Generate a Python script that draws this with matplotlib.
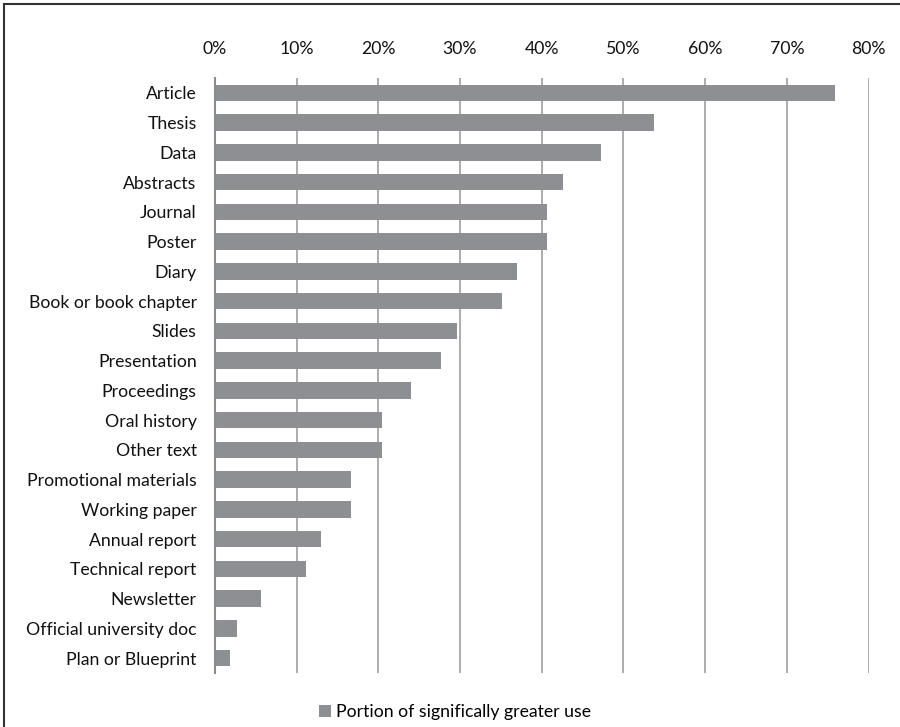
import matplotlib
matplotlib.use("Agg")
import matplotlib.pyplot as plt
from matplotlib.patches import Patch
from matplotlib.lines import Line2D

categories = ["Article", "Thesis", "Data", "Abstracts", "Journal", "Poster", "Diary",
              "Book or book chapter", "Slides", "Presentation", "Proceedings",
              "Oral history", "Other text", "Promotional materials", "Working paper",
              "Annual report", "Technical report", "Newsletter",
              "Official university doc", "Plan or Blueprint"]
values = [75.9, 53.7, 47.3, 42.6, 40.7, 40.7, 37.0, 35.2, 29.6, 27.7, 24.0,
          20.4, 20.4, 16.7, 16.7, 13.0, 11.1, 5.6, 2.7, 1.9]
tick_values = [0, 10, 20, 30, 40, 50, 60, 70, 80]
tick_labels = [f"{v}%" for v in tick_values]
series_name = "Portion of significally greater use"

plt.rcParams['font.family'] = ['Lato', 'DejaVu Sans']
fs = 12.7
bar_color = "#8E8F93"
text_color = "#111111"

fig = plt.figure(figsize=(9, 7.27), dpi=100)
ax = fig.add_axes([214.8/900, 1-673/727, (868.6-214.8)/900, (673-78)/727])

ypos = list(range(len(categories)))
ax.barh(ypos, values, height=0.55, color=bar_color, zorder=3)
ax.set_ylim(len(categories)-0.5, -0.5)
ax.set_xlim(0, 80)
ax.set_yticks(ypos)
ax.set_yticklabels(categories, fontsize=fs, color=text_color)
ax.xaxis.tick_top()
ax.set_xticks(tick_values)
ax.set_xticklabels(tick_labels, fontsize=fs, color=text_color)
ax.tick_params(axis='x', length=0, pad=15)
ax.tick_params(axis='y', length=0, pad=13)
ax.grid(axis='x', color="#A6A6A6", linewidth=1.3, zorder=1)
for s in ['top', 'right', 'bottom']:
    ax.spines[s].set_visible(False)
ax.spines['left'].set_color("#8C8C8C")
ax.spines['left'].set_linewidth(1.5)
ax.spines['left'].set_zorder(4)

handles = [Patch(facecolor=bar_color, edgecolor='none', label=series_name)]
fig.legend(handles=handles, loc='center', bbox_to_anchor=(455/900, 1-712/727),
           frameon=False, fontsize=fs, handlelength=0.65, handleheight=0.65,
           handletextpad=0.3)

fig.add_artist(Line2D([4/900, 1], [1-4/727, 1-4/727], transform=fig.transFigure,
                      color="#333333", linewidth=1.5))
fig.add_artist(Line2D([4/900, 4/900], [0, 1-4/727], transform=fig.transFigure,
                      color="#333333", linewidth=1.5))

fig.savefig("out.png", dpi=100)
